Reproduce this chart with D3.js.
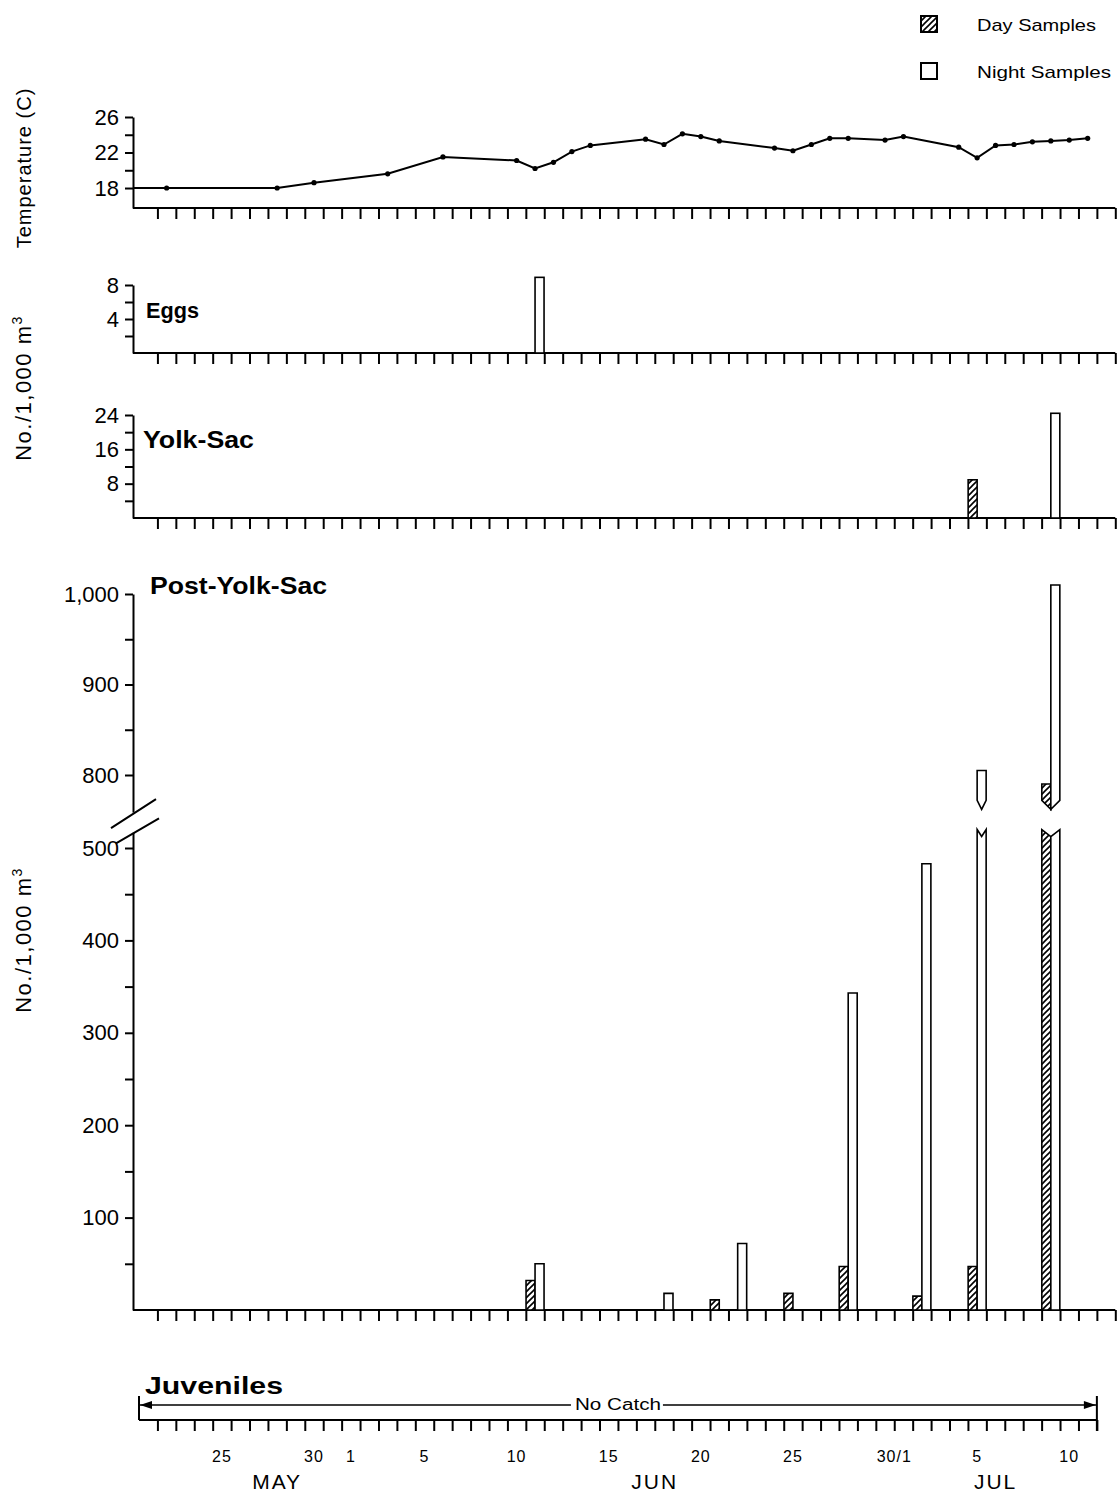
<!DOCTYPE html>
<html>
<head>
<meta charset="utf-8">
<script src="https://d3js.org/d3.v7.min.js"></script>
<style>
  body { margin: 0; background: #fff; }
  svg { font-family: "Liberation Sans", Arial, sans-serif; }
</style>
</head>
<body>
<div id="chart"></div>
<script>
const parse = d3.timeParse('%Y-%m-%d')
const parseH = d3.timeParse('%Y-%m-%d %H')

// temperature (C) per sampling day
const tempDates = ['1975-05-22','1975-05-28','1975-05-30','1975-06-03','1975-06-06','1975-06-10','1975-06-11','1975-06-12','1975-06-13','1975-06-14','1975-06-17','1975-06-18','1975-06-19','1975-06-20','1975-06-21','1975-06-24','1975-06-25','1975-06-26','1975-06-27','1975-06-28','1975-06-30','1975-07-01','1975-07-04','1975-07-05','1975-07-06','1975-07-07','1975-07-08','1975-07-09','1975-07-10','1975-07-11']
const tempValues = [18.0,18.0,18.6,19.6,21.5,21.1,20.2,20.9,22.1,22.8,23.5,22.9,24.1,23.8,23.3,22.5,22.2,22.9,23.6,23.6,23.4,23.8,22.6,21.4,22.8,22.9,23.2,23.3,23.4,23.6]

// eggs, no./1,000 m3
const eggDates = ['1975-06-11']
const eggDay = [0]
const eggNight = [8.9]

// yolk-sac larvae
const yolkDates = ['1975-07-05','1975-07-09']
const yolkDay = [8.9, 0]
const yolkNight = [0, 24.4]

// post-yolk-sac larvae (0 = no bar)
const postDates = ['1975-06-11','1975-06-18','1975-06-21','1975-06-22','1975-06-25','1975-06-28','1975-07-02','1975-07-05','1975-07-09']
const postDay = [32, 0, 11, 0, 18, 47, 15, 47, 790]
const postNight = [50, 18, 0, 72, 0, 343, 483, 805, 1010]

// axis labels
const dateLabelPos = ['1975-05-25 12','1975-05-30 12','1975-06-01 12','1975-06-05 12','1975-06-10 12','1975-06-15 12','1975-06-20 12','1975-06-25 12','1975-07-01 00','1975-07-05 12','1975-07-10 12']
const dateLabelText = ['25','30','1','5','10','15','20','25','30/1','5','10']
const monthPos = ['1975-05-28 12','1975-06-18 00','1975-07-06 12']
const monthText = ['MAY','JUN','JUL']

const svg = d3.select('#chart').append('svg')
  .attr('width', 1118)
  .attr('height', 1497)

const defs = svg.append('defs')
const pat = defs.append('pattern')
  .attr('id', 'hatch')
  .attr('patternUnits', 'userSpaceOnUse')
  .attr('width', 6)
  .attr('height', 6)
pat.append('rect').attr('width', 6).attr('height', 6).attr('fill', '#fff')
pat.append('path')
  .attr('d', 'M-1,1 l2,-2 M0,6 l6,-6 M5,7 l2,-2')
  .attr('stroke', '#000')
  .attr('stroke-width', 1.6)

const axisX = 133
const x = d3.scaleTime()
  .domain([parse('1975-05-21'), parse('1975-07-13')])
  .range([139, 1115.3])
const mid = d => d3.timeHour.offset(d, 12)
const bw = 9

// daily tick axis under a panel
function dayAxis(yBase, start, end) {
  const g = svg.append('g').attr('transform', `translate(0,${yBase})`)
  g.call(d3.axisBottom(x)
    .tickValues(d3.timeDay.range(parse('1975-05-22'), d3.timeDay.offset(end, 1)))
    .tickFormat('')
    .tickSize(11)
    .tickSizeOuter(0))
  g.select('.domain').remove()
  g.selectAll('.tick line').attr('stroke', '#000').attr('stroke-width', 2)
  g.append('line')
    .attr('x1', start).attr('x2', x(end))
    .attr('stroke', '#000').attr('stroke-width', 2)
  return g
}

function yAxis(scale, ticks, labels) {
  const g = svg.append('g').attr('transform', `translate(${axisX},0)`)
  g.call(d3.axisLeft(scale)
    .tickValues(ticks)
    .tickFormat(d => labels.includes(d) ? d3.format(',')(d) : '')
    .tickSize(8)
    .tickPadding(6)
    .tickSizeOuter(0))
  g.attr('font-size', 22).attr('font-family', '"Liberation Sans", Arial, sans-serif')
  g.select('.domain').attr('stroke-width', 2)
  g.selectAll('.tick line').attr('stroke-width', 2)
  return g
}

function label(txt, xx, yy, len, size) {
  svg.append('text')
    .attr('x', xx).attr('y', yy)
    .attr('font-size', size).attr('font-weight', 'bold')
    .attr('textLength', len).attr('lengthAdjust', 'spacingAndGlyphs')
    .text(txt)
}

function simpleBars(dates, day, night, y) {
  const rows = []
  dates.forEach((d, i) => {
    const c = x(mid(parse(d)))
    if (day[i] > 0) rows.push({ x0: c - bw, v: day[i], fill: 'url(#hatch)' })
    if (night[i] > 0) rows.push({ x0: c, v: night[i], fill: '#fff' })
  })
  svg.append('g').selectAll('rect').data(rows).join('rect')
    .attr('x', d => d.x0).attr('width', bw)
    .attr('y', d => y(d.v)).attr('height', d => y(0) - y(d.v))
    .attr('fill', d => d.fill)
    .attr('stroke', '#000').attr('stroke-width', 1.6)
}

// legend
svg.append('rect').attr('x', 921).attr('y', 16).attr('width', 16).attr('height', 16)
  .attr('fill', 'url(#hatch)').attr('stroke', '#000').attr('stroke-width', 2)
svg.append('rect').attr('x', 921).attr('y', 63).attr('width', 16).attr('height', 16)
  .attr('fill', '#fff').attr('stroke', '#000').attr('stroke-width', 2)
svg.append('text').attr('x', 977).attr('y', 31).attr('font-size', 17)
  .attr('textLength', 119).attr('lengthAdjust', 'spacingAndGlyphs').text('Day Samples')
svg.append('text').attr('x', 977).attr('y', 78).attr('font-size', 17)
  .attr('textLength', 134).attr('lengthAdjust', 'spacingAndGlyphs').text('Night Samples')

// rotated axis titles
function vTitle(yc, size, spacing, parts) {
  const t = svg.append('text')
    .attr('transform', `translate(31,${yc}) rotate(-90)`)
    .attr('text-anchor', 'middle')
    .attr('font-size', size)
    .attr('letter-spacing', spacing)
  t.append('tspan').text(parts[0])
  if (parts[1]) t.append('tspan').attr('dy', -9).attr('font-size', 14).text(parts[1])
  return t
}
vTitle(168, 20, 1, ['Temperature (C)'])
vTitle(388, 22, 1.5, ['No./1,000 m', '3'])
vTitle(940, 22, 1.5, ['No./1,000 m', '3'])

// ---- temperature panel
const yT = d3.scaleLinear().domain([15.75, 26]).range([208, 117])
yAxis(yT, [18, 20, 22, 24, 26], [18, 22, 26])
dayAxis(208, axisX, parse('1975-07-13'))
const temps = tempDates.map((d, i) => ({ date: mid(parse(d)), v: tempValues[i] }))
const tline = d3.line().x(d => x(d.date)).y(d => yT(d.v))
svg.append('path')
  .attr('d', 'M' + axisX + ',' + yT(temps[0].v) + 'L' + tline(temps).slice(1))
  .attr('fill', 'none').attr('stroke', '#000').attr('stroke-width', 2)
svg.append('g').selectAll('circle').data(temps).join('circle')
  .attr('cx', d => x(d.date)).attr('cy', d => yT(d.v)).attr('r', 2.6)

// ---- eggs panel
const yE = d3.scaleLinear().domain([0, 8]).range([353, 285])
yAxis(yE, [2, 4, 6, 8], [4, 8])
dayAxis(353, axisX, parse('1975-07-13'))
simpleBars(eggDates, eggDay, eggNight, yE)
label('Eggs', 146, 318, 53, 22)

// ---- yolk-sac panel
const yY = d3.scaleLinear().domain([0, 24]).range([518, 415])
yAxis(yY, [4, 8, 12, 16, 20, 24], [8, 16, 24])
dayAxis(518, axisX, parse('1975-07-13'))
simpleBars(yolkDates, yolkDay, yolkNight, yY)
label('Yolk-Sac', 143, 448, 111, 23)

// ---- post-yolk-sac panel with broken axis
const yLo = d3.scaleLinear().domain([0, 500]).range([1310, 848])
const yHi = d3.scaleLinear().domain([800, 1000]).range([775, 594])
const cutLo = 520, cutHi = 772
yAxis(yLo.copy().domain([0, 517]).range([yLo(0), yLo(517)]),
  d3.range(50, 501, 50), [100, 200, 300, 400, 500])
yAxis(yHi.copy().domain([759, 1000]).range([yHi(759), yHi(1000)]),
  [800, 850, 900, 950, 1000], [800, 900, 1000])
dayAxis(1310, axisX, parse('1975-07-13'))
// break marks on the value axis
const bLo = yLo(517), bHi = yHi(759)
svg.append('path')
  .attr('d', `M${axisX - 22},${bHi + 16} L${axisX + 23},${bHi - 13} M${axisX - 17},${bLo + 11} L${axisX + 26},${bLo - 14}`)
  .attr('stroke', '#000').attr('stroke-width', 2)

const postRows = []
postDates.forEach((d, i) => {
  const c = x(mid(parse(d)))
  const items = []
  if (postDay[i] > 0) items.push({ x0: c - bw, x1: c, v: postDay[i], fill: 'url(#hatch)' })
  if (postNight[i] > 0) items.push({ x0: c, x1: c + bw, v: postNight[i], fill: '#fff' })
  const broken = items.filter(b => b.v > cutLo)
  const gl = d3.min(broken, b => b.x0), gr = d3.max(broken, b => b.x1)
  items.forEach(b => { b.gl = gl; b.gr = gr; postRows.push(b) })
})

function vEdge(b, y0, depth) {
  const gm = (b.gl + b.gr) / 2, hw = (b.gr - b.gl) / 2
  const f = xx => y0 + depth * Math.max(0, 1 - Math.abs(xx - gm) / hw)
  const pts = [[b.x0, f(b.x0)]]
  if (gm > b.x0 && gm < b.x1) pts.push([gm, f(gm)])
  pts.push([b.x1, f(b.x1)])
  return pts
}

function barPath(b) {
  if (b.v <= cutLo) {
    return [[b.x0, yLo(0)], [b.x0, yLo(b.v)], [b.x1, yLo(b.v)], [b.x1, yLo(0)]]
  }
  return vEdge(b, yLo(cutLo), 7).concat([[b.x1, yLo(0)], [b.x0, yLo(0)]])
}

const pg = svg.append('g')
pg.selectAll('path.lo').data(postRows).join('path')
  .attr('class', 'lo')
  .attr('d', b => 'M' + barPath(b).join('L') + 'Z')
  .attr('fill', b => b.fill)
  .attr('stroke', '#000').attr('stroke-width', 1.6)
pg.selectAll('path.hi').data(postRows.filter(b => b.v > cutLo)).join('path')
  .attr('class', 'hi')
  .attr('d', b => {
    const top = [[b.x0, yHi(b.v)], [b.x1, yHi(b.v)]]
    const bottom = vEdge(b, yHi(cutHi), 9).reverse()
    return 'M' + top.concat(bottom).join('L') + 'Z'
  })
  .attr('fill', b => b.fill)
  .attr('stroke', '#000').attr('stroke-width', 1.6)
label('Post-Yolk-Sac', 150, 594, 177, 23)

// ---- juveniles
const jStart = parse('1975-05-21'), jEnd = parse('1975-07-12')
const jx0 = x(jStart), jx1 = x(jEnd), jm = (jx0 + jx1) / 2
dayAxis(1420, jx0, jEnd)
label('Juveniles', 145, 1394, 138, 23)
svg.append('path')
  .attr('d', `M${jx0},1396V1420 M${jx1},1396V1431`)
  .attr('stroke', '#000').attr('stroke-width', 2)
svg.append('path')
  .attr('d', `M${jx0},1405H${jm - 47} M${jm + 45},1405H${jx1}`)
  .attr('stroke', '#000').attr('stroke-width', 1.6)
svg.append('path')
  .attr('d', `M${jx0 + 1},1405 l12,-4 v8 Z M${jx1 - 1},1405 l-12,-4 v8 Z`)
  .attr('fill', '#000')
svg.append('text')
  .attr('x', jm).attr('y', 1410)
  .attr('text-anchor', 'middle').attr('font-size', 16)
  .attr('textLength', 86).attr('lengthAdjust', 'spacingAndGlyphs')
  .text('No Catch')

svg.append('g').selectAll('text').data(dateLabelPos).join('text')
  .attr('x', d => x(parseH(d)))
  .attr('y', 1462)
  .attr('text-anchor', 'middle')
  .attr('font-size', 16)
  .attr('letter-spacing', 1)
  .text((d, i) => dateLabelText[i])

svg.append('g').selectAll('text').data(monthPos).join('text')
  .attr('x', d => x(parseH(d)))
  .attr('y', 1489)
  .attr('text-anchor', 'middle')
  .attr('font-size', 21)
  .attr('letter-spacing', 2)
  .text((d, i) => monthText[i])
</script>
</body>
</html>
